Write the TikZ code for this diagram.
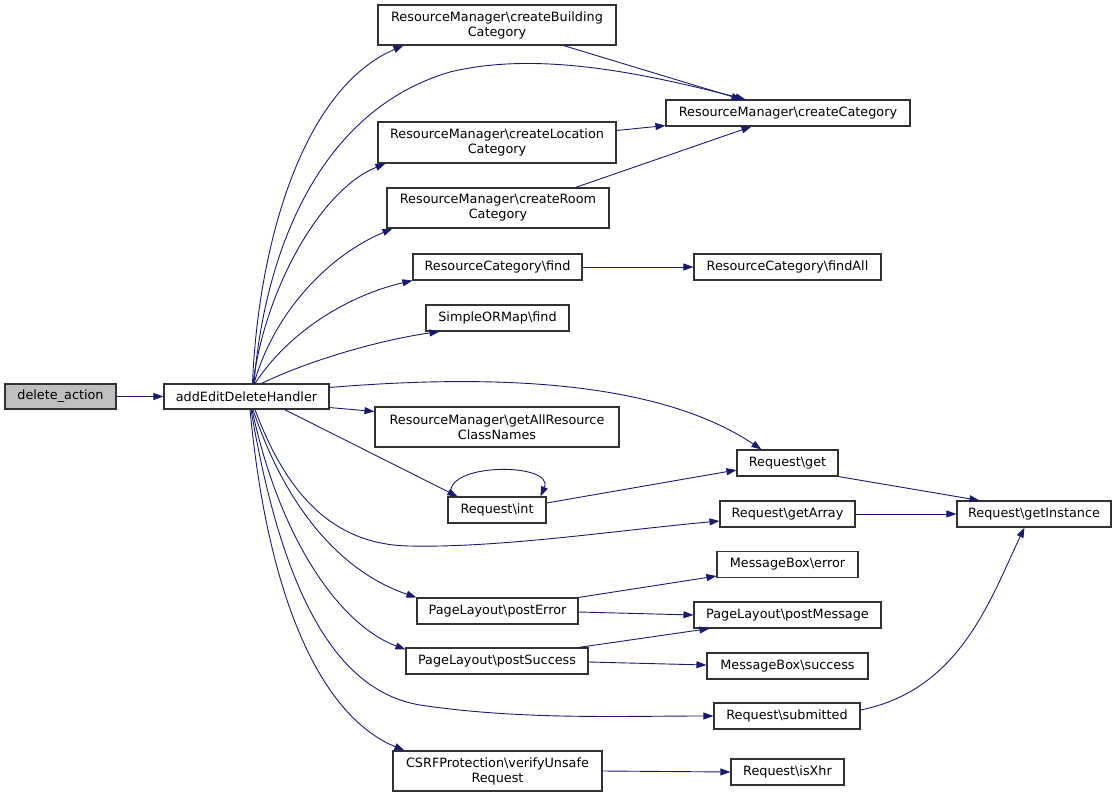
\documentclass[tikz,border=0pt]{standalone}
\usepackage{fontspec}
\setmainfont{DejaVu Sans}
\usetikzlibrary{arrows.meta,calc}
\definecolor{edgec}{RGB}{25,25,112}
\definecolor{boxc}{RGB}{50,50,50}
\definecolor{rootc}{RGB}{191,191,191}
\tikzset{
  box/.style={draw=boxc, line width=1.1pt, fill=white, rectangle, inner sep=0pt, align=center,
    font=\fontsize{12.8}{15}\selectfont},
  rootbox/.style={box, fill=rootc},
  edge/.style={draw=edgec, line width=0.9pt, -{Triangle[length=10pt,width=7pt]}, fill=none},
}
\newcommand{\bs}{\textbackslash}
\begin{document}
\begin{tikzpicture}[x=1pt,y=-1pt]
\useasboundingbox (0,0) rectangle (1117,797);
% nodes
\node[rootbox, minimum width=111, minimum height=25] (da) at (60.5,396.5) {delete\_action};
\node[box, minimum width=165, minimum height=25] (A) at (246.5,396.5) {addEditDeleteHandler};
\node[box, minimum width=238, minimum height=40] (cB) at (497,25) {ResourceManager\bs createBuilding\\Category};
\node[box, minimum width=244, minimum height=26] (cC) at (788,113) {ResourceManager\bs createCategory};
\node[box, minimum width=238, minimum height=41] (cL) at (497,142.5) {ResourceManager\bs createLocation\\Category};
\node[box, minimum width=222, minimum height=40] (cR) at (498,208) {ResourceManager\bs createRoom\\Category};
\node[box, minimum width=169, minimum height=26] (rf) at (497.5,267) {ResourceCategory\bs find};
\node[box, minimum width=187, minimum height=26] (rfa) at (787.5,267) {ResourceCategory\bs findAll};
\node[box, minimum width=143, minimum height=26] (sf) at (497.5,318) {SimpleORMap\bs find};
\node[box, minimum width=244, minimum height=40] (ga) at (497,427) {ResourceManager\bs getAllResource\\ClassNames};
\node[box, minimum width=101, minimum height=26] (rg) at (787.5,463) {Request\bs get};
\node[box, minimum width=98, minimum height=26] (ri) at (497,510) {Request\bs int};
\node[box, minimum width=135, minimum height=26] (rga) at (787.5,514) {Request\bs getArray};
\node[box, minimum width=154, minimum height=26] (rgi) at (1034,514) {Request\bs getInstance};
\node[box, minimum width=141, minimum height=26] (me) at (787.5,564.5) {MessageBox\bs error};
\node[box, minimum width=161, minimum height=26] (pe) at (497.5,611) {PageLayout\bs postError};
\node[box, minimum width=187, minimum height=26] (pm) at (787.5,615) {PageLayout\bs postMessage};
\node[box, minimum width=182, minimum height=26] (ps) at (497,661) {PageLayout\bs postSuccess};
\node[box, minimum width=161, minimum height=26] (ms) at (787.5,666) {MessageBox\bs success};
\node[box, minimum width=146, minimum height=26] (rs) at (787,716) {Request\bs submitted};
\node[box, minimum width=209, minimum height=40] (cs) at (497.5,771) {CSRFProtection\bs verifyUnsafe\\Request};
\node[box, minimum width=113, minimum height=26] (rx) at (787.5,772) {Request\bs isXhr};
% edges
\draw[edge] (da.east) -- (A.west);
\draw[edge] ($(A.north)+(6,0)$) .. controls (258,250) and (300,90) .. ($(cB.south west)+(26,0)$);
\draw[edge] ($(A.north)+(7.5,0)$) .. controls (265,250) and (320,110) .. (450,72) .. controls (540,50) and (650,75) .. ($(cC.north west)+(80,0)$);
\draw[edge] ($(A.north)+(6.5,0)$) .. controls (265,290) and (320,190) .. ($(cL.south west)+(8,0)$);
\draw[edge] ($(A.north)+(7.5,0)$) .. controls (275,310) and (330,255) .. ($(cR.south west)+(6,0)$);
\draw[edge] ($(A.north)+(8.5,0)$) .. controls (290,330) and (350,295) .. ($(rf.south west)+(0,0)$);
\draw[edge] ($(A.north)+(15,0)$) .. controls (310,360) and (380,340) .. ($(sf.south west)+(14,0)$);
\draw[edge] ($(A.north east)+(0,4)$) .. controls (470,376) and (650,375) .. ($(rg.north west)+(25,0)$);
\draw[edge] ($(A.south east)+(0,-2)$) -- ($(ga.north west)+(0,5)$);
\draw[edge] ($(A.south)+(38,0)$) -- ($(ri.north west)+(10,0)$);
\draw[edge] ($(A.south)+(8.5,0)$) .. controls (285,490) and (330,545) .. (410,546) .. controls (500,548) and (620,530) .. ($(rga.west)+(0,7)$);
\draw[edge] ($(A.south)+(6.5,0)$) .. controls (290,520) and (350,575) .. ($(pe.north west)+(0,0)$);
\draw[edge] ($(A.south)+(5.5,0)$) .. controls (280,540) and (340,625) .. ($(ps.north west)+(0,2)$);
\draw[edge] ($(A.south)+(4.5,0)$) .. controls (280,580) and (330,690) .. (420,705) .. controls (520,720) and (620,716) .. (rs.west);
\draw[edge] ($(A.south)+(3.5,0)$) .. controls (270,620) and (330,720) .. ($(cs.north west)+(12,0)$);
\draw[edge] ($(cB.south east)+(-53,0)$) -- ($(cC.north west)+(76,0)$);
\draw[edge] ($(cL.east)+(0,-12)$) -- ($(cC.south west)+(0,-1)$);
\draw[edge] ($(cR.north east)+(-34,0)$) -- ($(cC.south west)+(86,0)$);
\draw[edge] (rf.east) -- (rfa.west);
\draw[edge] ($(ri.north west)+(4,0)$) .. controls (440,462) and (555,462) .. ($(ri.north east)+(-6,0)$);
\draw[edge] ($(ri.east)+(0,-7)$) -- ($(rg.west)+(0,7)$);
\draw[edge] ($(rg.south east)+(0,0)$) -- ($(rgi.north west)+(23,0)$);
\draw[edge] (rga.east) -- (rgi.west);
\draw[edge] ($(pe.north east)+(0,0)$) -- ($(me.south west)+(0,-2)$);
\draw[edge] ($(pe.east)+(0,1)$) -- ($(pm.west)+(0,0)$);
\draw[edge] ($(ps.north east)+(-10,0)$) -- ($(pm.south west)+(16,0)$);
\draw[edge] ($(ps.east)+(0,1)$) -- ($(ms.west)+(0,-1)$);
\draw[edge] ($(rs.east)+(0,-6)$) .. controls (960,690) and (990,600) .. ($(rgi.south west)+(68,0)$);
\draw[edge] (cs.east) -- (rx.west);
\end{tikzpicture}
\end{document}
